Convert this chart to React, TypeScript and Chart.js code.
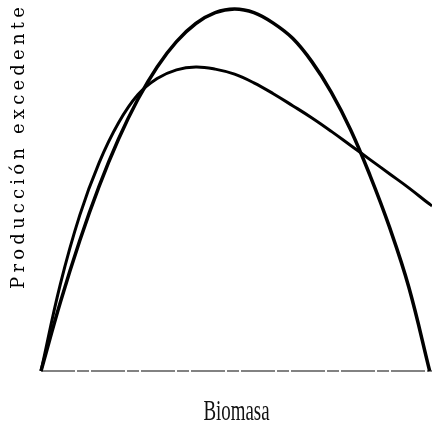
import React, { useEffect, useRef } from 'react';
import { Chart, registerables } from 'chart.js';

Chart.register(...registerables);

const logisticBiomass = [0, 5, 10, 15, 20, 25, 30, 35, 40, 45, 50, 55, 60, 65, 70, 75, 80, 85, 90, 95, 100.4];
const logisticSurplus = [0, 19, 36, 51, 64, 75, 84, 91, 96, 99, 100, 99, 96.1, 91.9, 85.4, 77, 66.6, 54, 39.8, 23.2, 0];

const foxBiomass = [0, 5, 10, 15, 20, 25, 30, 35, 40, 45, 50, 55, 60, 65, 70, 75, 80, 85, 90, 95, 100, 101];
const foxSurplus = [0, 24, 43, 57.5, 68.5, 76.3, 80.8, 83.2, 84, 83.4, 82, 79.6, 76.6, 73.3, 69.9, 66.2, 62.3, 58.4, 54.5, 50.6, 46.4, 45.6];

const axisBiomass = [0, 101];
const axisLevel = [0, 0];

const xTitle = 'Biomasa';
const yTitle = 'Producción excedente';

const titlePlugin = {
  id: 'titleStyle',
  beforeDraw(chart: any) {
    chart.ctx.letterSpacing = '4.2px';
  },
  afterDatasetsDraw(chart: any) {
    const ctx = chart.ctx;
    const cx = (chart.chartArea.left + chart.chartArea.right) / 2;
    ctx.save();
    ctx.letterSpacing = '0px';
    ctx.translate(cx, 0);
    ctx.scale(0.63, 1);
    ctx.translate(-cx, 0);
  },
  afterDraw(chart: any) {
    chart.ctx.restore();
  },
};

export default function App() {
  const ref = useRef<HTMLCanvasElement>(null);
  useEffect(() => {
    if (!ref.current) return;
    const chart = new Chart(ref.current, {
      type: 'line',
      data: {
        datasets: [
          {
            data: logisticBiomass.map((x, i) => ({ x, y: logisticSurplus[i] })),
            borderColor: '#000',
            borderWidth: 3.5,
            pointRadius: 0,
            tension: 0.4,
            fill: false,
          },
          {
            data: foxBiomass.map((x, i) => ({ x, y: foxSurplus[i] })),
            borderColor: '#000',
            borderWidth: 3,
            pointRadius: 0,
            tension: 0.4,
            fill: false,
          },
          {
            data: axisBiomass.map((x, i) => ({ x, y: axisLevel[i] })),
            borderColor: '#5a5a5a',
            borderWidth: 1.3,
            borderDash: [34, 2, 12, 2],
            pointRadius: 0,
            fill: false,
          },
        ],
      },
      options: {
        animation: false,
        responsive: true,
        maintainAspectRatio: false,
        layout: { padding: { top: 3, left: 0, right: 0, bottom: 0 } },
        plugins: { legend: { display: false }, tooltip: { enabled: false } },
        clip: false,
        scales: {
          x: {
            type: 'linear',
            min: 0,
            max: 101,
            ticks: { display: false },
            grid: { display: false, drawTicks: false, z: 1 },
            border: { display: false },
            title: {
              display: true,
              text: xTitle,
              color: '#111',
              font: { family: "'Liberation Serif', serif", size: 30, lineHeight: 1 },
              padding: { top: 26, bottom: 0 },
            },
          },
          y: {
            type: 'linear',
            min: 0,
            max: 101.66,
            ticks: { display: false },
            grid: { display: false, drawTicks: false },
            border: { display: false },
            title: {
              display: true,
              text: yTitle,
              align: 'end',
              color: '#000',
              font: { family: "'DejaVu Serif', serif", size: 18, lineHeight: 1.2 },
              padding: { top: 8.2, bottom: 11.2 },
            },
          },
        },
      } as any,
      plugins: [titlePlugin],
    });
    return () => chart.destroy();
  }, []);
  return (
    <div style={{ position: 'fixed', left: 0, top: 0, width: 432, height: 427, background: '#fff' }}>
      <canvas ref={ref} />
    </div>
  );
}
